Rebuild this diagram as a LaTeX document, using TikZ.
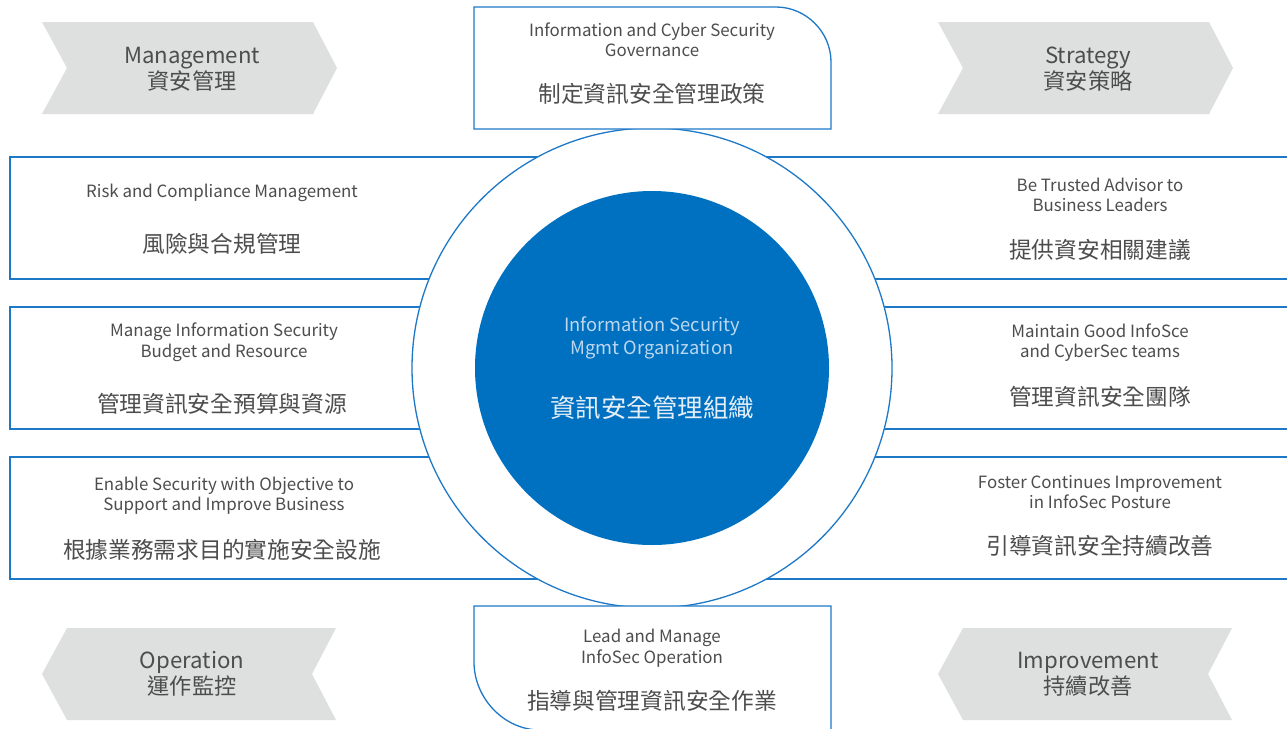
\documentclass[tikz,border=0pt]{standalone}
\usepackage{fontspec}
\setmainfont{Noto Sans CJK TC}
\definecolor{txt}{RGB}{77,77,77}
\definecolor{lineblue}{RGB}{30,120,200}
\definecolor{fillblue}{RGB}{0,112,192}
\definecolor{chev}{RGB}{222,223,223}
\definecolor{cen}{RGB}{190,215,240}
\definecolor{cenzh}{RGB}{228,238,249}
\begin{document}
\begin{tikzpicture}[x=1pt,y=-1pt,
  frame/.style={draw=lineblue,line width=1.3pt},
  chevron/.style={fill=chev,draw=none},
  en/.style={text=txt,align=center,font=\fontsize{16.9}{20.5}\selectfont,inner sep=0pt},
  zh/.style={text=txt,align=center,font=\fontsize{22.7}{26}\selectfont,inner sep=0pt},
  chevtxt/.style={text=txt,align=center,font=\fontsize{22.2}{26}\selectfont,inner sep=0pt},
  cenen/.style={text=cen,align=center,font=\fontsize{18.3}{23}\selectfont,inner sep=0pt},
  cenzh/.style={text=cenzh,align=center,font=\fontsize{25.5}{30}\selectfont,inner sep=0pt}]
\useasboundingbox (0,0) rectangle (1287,728);
\fill[white] (0,0) rectangle (1287,728);

% chevrons
\fill[chevron] (42,22) -- (313,22) -- (337,68) -- (313,114) -- (42,114) -- (67,68) -- cycle;
\fill[chevron] (938,22) -- (1209,22) -- (1233,68) -- (1209,114) -- (938,114) -- (963,68) -- cycle;
\fill[chevron] (67,628) -- (336,628) -- (312,674) -- (336,720) -- (67,720) -- (42,674) -- cycle;
\fill[chevron] (963,628) -- (1232,628) -- (1208,674) -- (1232,720) -- (963,720) -- (938,674) -- cycle;

% side boxes
\draw[frame] (652,157) -- (10,157) -- (10,279) -- (652,279);
\draw[frame] (652,307) -- (10,307) -- (10,429) -- (652,429);
\draw[frame] (652,457) -- (10,457) -- (10,579) -- (652,579);
\draw[frame] (652,157) -- (1290,157);
\draw[frame] (652,279) -- (1290,279);
\draw[frame] (652,307) -- (1290,307);
\draw[frame] (652,429) -- (1290,429);
\draw[frame] (652,457) -- (1290,457);
\draw[frame] (652,579) -- (1290,579);

% outer circle
\node[circle,fill=white,draw=lineblue,line width=1.3pt,minimum size=480pt,inner sep=0pt] (outer) at (652,368) {};

% top box
\draw[frame,fill=white] (474,129) -- (474,7) -- (776,7) .. controls (806,7) and (831,32) .. (831,62) -- (831,129) -- cycle;
% bottom box
\draw[frame,fill=white] (831,735) -- (831,606) -- (474,606) -- (474,662) .. controls (474,698) and (504,730) .. (540,730) -- (831,735);
\draw[white,line width=3pt] (540,731.5) -- (835,731.5);

% inner circle
\node[circle,fill=fillblue,minimum size=354pt,inner sep=0pt] (inner) at (652,368) {};

% chevron texts
\node[chevtxt] (mg) at (192,69) {Management\\資安管理};
\node[chevtxt] (st) at (1088,69) {Strategy\\資安策略};
\node[chevtxt] (op) at (192,674) {Operation\\運作監控};
\node[chevtxt] (im) at (1088,674) {Improvement\\持續改善};

% top box texts
\node[en] (t1) at (652,40) {Information and Cyber Security\\Governance};
\node[zh] (t2) at (652,94) {制定資訊安全管理政策};
% bottom
\node[en] (b1) at (652,648) {Lead and Manage\\InfoSec Operation};
\node[zh] (b2) at (652,701) {指導與管理資訊安全作業};

% left
\node[en] (l1) at (222,193) {Risk and Compliance Management};
\node[zh] (l1z) at (222,244) {風險與合規管理};
\node[en] (l2) at (224,342.5) {Manage Information Security\\Budget and Resource};
\node[zh] (l2z) at (222,404) {管理資訊安全預算與資源};
\node[en] (l3) at (224,495.5) {Enable Security with Objective to\\Support and Improve Business};
\node[zh] (l3z) at (222,550) {根據業務需求目的實施安全設施};

% right
\node[en] (r1) at (1100,195) {Be Trusted Advisor to\\Business Leaders};
\node[zh] (r1z) at (1100,250) {提供資安相關建議};
\node[en] (r2) at (1100,342.5) {Maintain Good InfoSce\\and CyberSec teams};
\node[zh] (r2z) at (1100,397) {管理資訊安全團隊};
\node[en] (r3) at (1100,492) {Foster Continues Improvement\\in InfoSec Posture};
\node[zh] (r3z) at (1100,546) {引導資訊安全持續改善};

% centre
\node[cenen] (c1) at (652,338) {Information Security\\Mgmt Organization};
\node[cenzh] (c2) at (652,408) {資訊安全管理組織};
\end{tikzpicture}
\end{document}
